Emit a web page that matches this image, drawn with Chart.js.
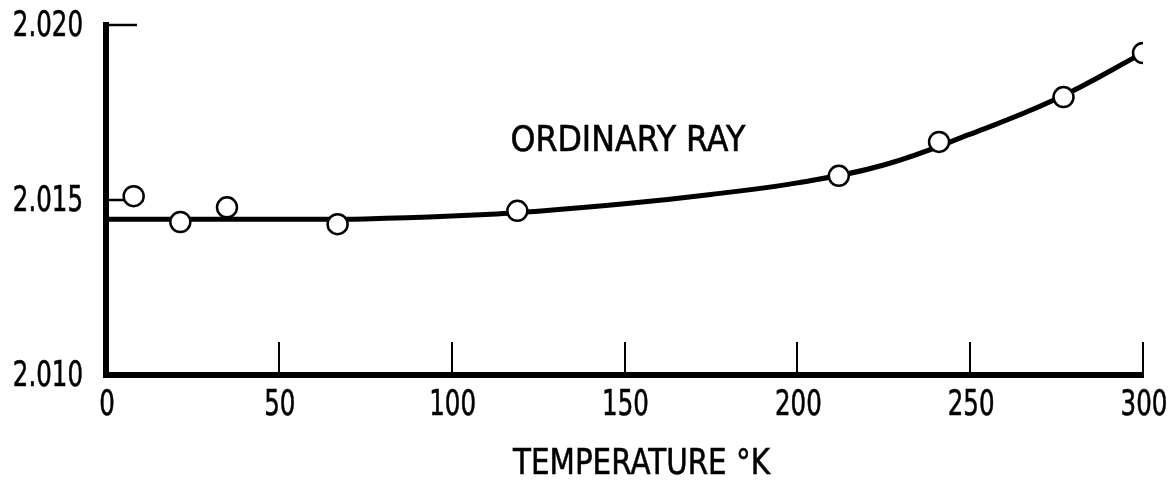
<!DOCTYPE html>
<html>
<head>
<meta charset="utf-8">
<title>Ordinary ray refractive index vs temperature</title>
<script src="https://cdn.jsdelivr.net/npm/chart.js@4"></script>
<style>
  html, body { margin: 0; padding: 0; background: #ffffff; }
  #wrap { width: 1169px; height: 484px; }
</style>
</head>
<body>
<div id="wrap"><canvas id="chart" width="1169" height="484"></canvas></div>
<script>
// Measured points (open circles)
const temperatureK = [8, 21.5, 35, 67, 119, 212, 241, 277, 300];
const ordinaryIndex = [2.01511, 2.01437, 2.01479, 2.01431, 2.01469, 2.01569, 2.01666, 2.01794, 2.01920];

// Smooth curve drawn through the measurements
const curveTemperatureK = [0, 25, 50, 75, 100, 125, 150, 175, 200, 225, 250, 275, 300];
const curveIndex = [2.01445, 2.01445, 2.01445, 2.01446, 2.01454, 2.01468, 2.01489, 2.01516, 2.01549, 2.01600, 2.01688, 2.01789, 2.01920];

// Axis ticks and texts
const xTickValues = [0, 50, 100, 150, 200, 250, 300];
const yTickValues = [2.010, 2.015, 2.020];
const xTitle = 'TEMPERATURE °K';
const curveLabel = 'ORDINARY RAY';

const FONT_FAMILY = "'DejaVu Sans', sans-serif";
const FONT_SIZE = 35;
const DIGIT_SQUEEZE = 0.7;   // narrow lettering for numbers
const INK = '#000000';

// Where the curve name sits, in data units
const curveLabelAt = { x: 151, y: 2.01666 };

const pointData = temperatureK.map((t, i) => ({ x: t, y: ordinaryIndex[i] }));
const curveData = curveTemperatureK.map((t, i) => ({ x: t, y: curveIndex[i] }));

// Draw a horizontally condensed string; align is 'left' | 'center' | 'right'
function narrowText(ctx, text, x, y, squeeze, align) {
  ctx.save();
  ctx.translate(x, y);
  ctx.scale(squeeze, 1);
  ctx.textAlign = align;
  ctx.textBaseline = 'middle';
  ctx.lineWidth = 0.6;
  ctx.fillText(text, 0, 0);
  ctx.strokeText(text, 0, 0);
  ctx.restore();
}

// Condense a string so that it spans the given width
function fittedText(ctx, text, x, y, width) {
  const w = ctx.measureText(text).width;
  narrowText(ctx, text, x, y, width / w, 'center');
}

const decorations = {
  id: 'decorations',
  // tick marks pointing into the plot
  beforeDatasetsDraw(chart) {
    const { ctx, chartArea, scales } = chart;
    const xs = scales.x, ys = scales.y;
    ctx.save();
    ctx.strokeStyle = INK;
    ctx.lineCap = 'butt';
    ctx.lineWidth = 2;
    xTickValues.forEach(v => {
      if (v === xs.min) return;
      const px = Math.round(xs.getPixelForValue(v));
      ctx.beginPath();
      ctx.moveTo(px, chartArea.bottom);
      ctx.lineTo(px, chartArea.bottom - 33);
      ctx.stroke();
    });
    ctx.lineWidth = 2.5;
    yTickValues.forEach(v => {
      if (v === ys.min) return;
      const py = Math.round(ys.getPixelForValue(v));
      ctx.beginPath();
      ctx.moveTo(chartArea.left, py);
      ctx.lineTo(chartArea.left + 31, py);
      ctx.stroke();
    });
    ctx.restore();
  },
  // tick labels, axis title and curve name
  afterDraw(chart) {
    const { ctx, chartArea, scales } = chart;
    const xs = scales.x, ys = scales.y;
    ctx.save();
    ctx.fillStyle = INK;
    ctx.strokeStyle = INK;
    ctx.font = `${FONT_SIZE}px ${FONT_FAMILY}`;
    xTickValues.forEach(v => {
      narrowText(ctx, String(v), xs.getPixelForValue(v) + 1, chartArea.bottom + 31, DIGIT_SQUEEZE, 'center');
    });
    yTickValues.forEach(v => {
      narrowText(ctx, v.toFixed(3), chartArea.left - 23, ys.getPixelForValue(v) + 2, DIGIT_SQUEEZE, 'right');
    });
    fittedText(ctx, curveLabel, xs.getPixelForValue(curveLabelAt.x), ys.getPixelForValue(curveLabelAt.y), 235);
    fittedText(ctx, xTitle, (chartArea.left + chartArea.right) / 2 + 17, chartArea.bottom + 90, 257);
    ctx.restore();
  }
};

new Chart(document.getElementById('chart'), {
  type: 'line',
  data: {
    datasets: [
      {
        label: 'measured',
        data: pointData,
        showLine: false,
        pointRadius: 10,
        pointBorderWidth: 2.5,
        pointBorderColor: INK,
        pointBackgroundColor: '#ffffff',
        pointHoverRadius: 10
      },
      {
        label: curveLabel,
        data: curveData,
        borderColor: INK,
        borderWidth: 5,
        pointRadius: 0,
        pointHoverRadius: 0,
        fill: false,
        tension: 0.4
      }
    ]
  },
  options: {
    responsive: false,
    animation: false,
    events: [],
    layout: { padding: { top: 25, right: 26, left: 0, bottom: 0 } },
    plugins: {
      legend: { display: false },
      tooltip: { enabled: false },
      title: { display: false }
    },
    scales: {
      x: {
        type: 'linear',
        min: 0,
        max: 300,
        afterBuildTicks: s => { s.ticks = xTickValues.map(v => ({ value: v })); },
        afterFit: s => { s.height = 109; },
        grid: { display: true, drawOnChartArea: false, drawTicks: false, color: 'rgba(0,0,0,0)' },
        border: { display: true, color: INK, width: 6 },
        ticks: { display: false }
      },
      y: {
        type: 'linear',
        min: 2.010,
        max: 2.020,
        afterBuildTicks: s => { s.ticks = yTickValues.map(v => ({ value: v })); },
        afterFit: s => { s.width = 106; },
        grid: { display: true, drawOnChartArea: false, drawTicks: false, color: 'rgba(0,0,0,0)' },
        border: { display: true, color: INK, width: 6 },
        ticks: { display: false }
      }
    }
  },
  plugins: [decorations]
});
</script>
</body>
</html>
